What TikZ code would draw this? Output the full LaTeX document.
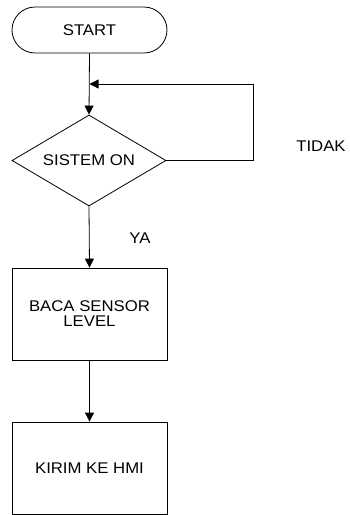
\documentclass[tikz,border=0pt]{standalone}
\usepackage{fontspec}
\setmainfont{Liberation Sans}[FakeStretch=1.08]
\usetikzlibrary{shapes.geometric,arrows.meta}
\begin{document}
\begin{tikzpicture}[x=1pt,y=-1pt,line width=0.8pt,
  every node/.style={font=\fontsize{15.5}{18}\selectfont},
  term/.style={draw,rounded corners=23pt,minimum width=155pt,minimum height=46pt},
  proc/.style={draw,minimum width=155pt,minimum height=92pt,align=center},
  dec/.style={draw,diamond,aspect=1.7,inner sep=0pt,minimum width=154pt,minimum height=91pt},
  lbl/.style={draw=none},
  arr/.style={-{Triangle[length=9pt,width=9pt]}}]
\useasboundingbox (0,0) rectangle (349,515);
\node[term] (start) at (89.5,30) {START};
\node[dec] (on) at (89,160.5) {SISTEM ON};
\node[proc] (baca) at (89.5,314) {BACA SENSOR\\[-3pt]LEVEL};
\node[proc] (kirim) at (89.5,468) {KIRIM KE HMI};
\node[lbl] (tidak) at (321,146) {TIDAK};
\node[lbl] (ya) at (140,238) {YA};
\coordinate (join) at (89.5,84);
\coordinate (loopc) at (253.5,84);
\draw[arr] (start.south) -- (on.north);
\draw[arr] (on.east) -| (loopc) -- (join);
\draw[arr] (on.south) -- (baca.north);
\draw[arr] (baca.south) -- (kirim.north);
\end{tikzpicture}
\end{document}
